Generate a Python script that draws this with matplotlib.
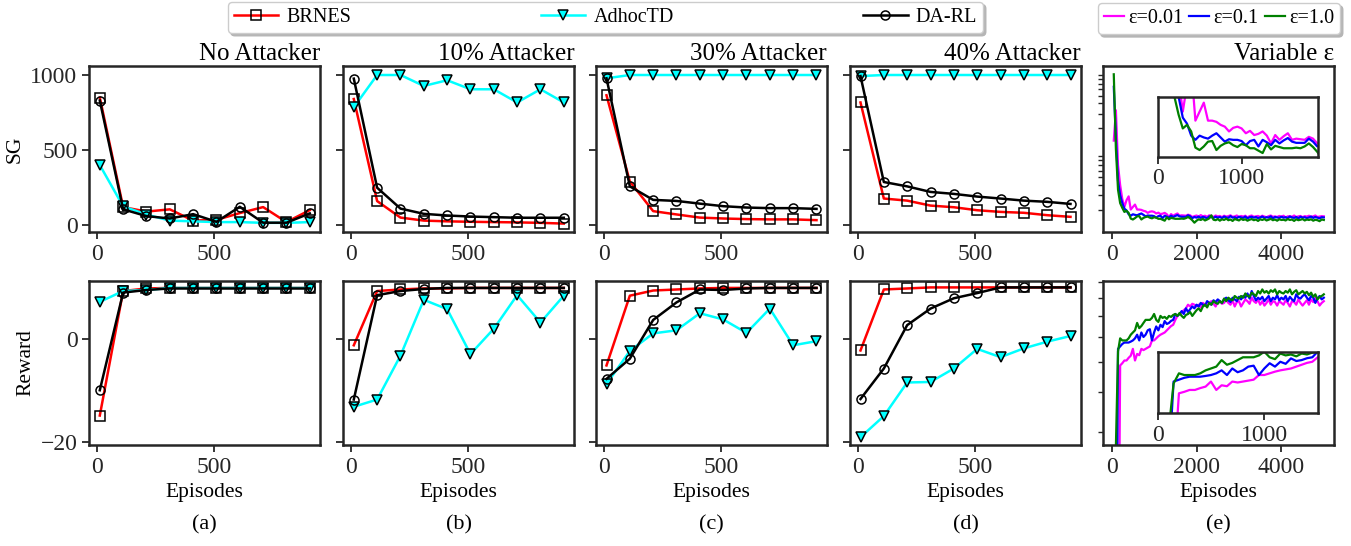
import matplotlib.pyplot as plt
from matplotlib.ticker import NullFormatter

plt.rcParams['font.family'] = ['Liberation Serif', 'DejaVu Serif']

# panels (a)-(d)
episodes = [10, 110, 210, 310, 410, 510, 610, 710, 810, 910]
titles = ['No Attacker', '10% Attacker', '30% Attacker', '40% Attacker']
panel_tags = ['(a)', '(b)', '(c)', '(d)', '(e)']

sg_brnes = [
    [850, 120, 90, 105, 30, 35, 80, 120, 20, 100],
    [840, 160, 50, 30, 25, 22, 20, 18, 15, 10],
    [865, 290, 93, 71, 50, 44, 40, 38, 38, 33],
    [817, 177, 163, 130, 119, 99, 88, 82, 66, 55],
]
sg_adhoc = [
    [400, 125, 70, 30, 25, 20, 20, 15, 15, 20],
    [785, 1000, 1000, 927, 965, 905, 905, 817, 905, 817],
    [978, 1000, 1000, 1000, 1000, 1000, 1000, 1000, 1000, 1000],
    [993, 1000, 1000, 1000, 1000, 1000, 1000, 1000, 1000, 1000],
]
sg_darl = [
    [830, 105, 60, 44, 73, 22, 122, 16, 16, 78],
    [976, 249, 110, 75, 64, 57, 53, 49, 49, 49],
    [978, 258, 168, 161, 143, 126, 117, 113, 113, 108],
    [993, 287, 258, 221, 208, 190, 177, 163, 155, 141],
]

rw_brnes = [
    [-14.8, 9.3, 9.8, 9.9, 9.9, 9.9, 9.9, 9.9, 9.9, 9.9],
    [-1.2, 9.3, 9.6, 9.8, 9.8, 9.9, 9.9, 9.9, 9.9, 9.9],
    [-5.1, 8.4, 9.4, 9.6, 9.8, 9.9, 9.9, 9.9, 9.9, 9.9],
    [-2.2, 9.6, 9.8, 10, 10, 10, 10, 10, 10, 10],
]
rw_adhoc = [
    [7.2, 9.3, 9.5, 9.9, 9.9, 9.9, 9.9, 9.9, 9.9, 9.9],
    [-13.1, -11.7, -3.2, 7.6, 5.8, -2.9, 2.0, 8.5, 3.2, 8.4],
    [-8.7, -2.3, 1.1, 1.7, 5.0, 3.8, 1.2, 5.9, -1.2, -0.4],
    [-19.0, -14.9, -8.4, -8.3, -5.7, -1.9, -3.5, -1.8, -0.5, 0.6],
]
rw_darl = [
    [-9.9, 9.0, 9.5, 9.8, 9.8, 9.8, 9.8, 9.8, 9.8, 9.8],
    [-11.7, 8.5, 9.3, 9.7, 9.9, 9.9, 9.9, 9.9, 9.9, 9.9],
    [-7.7, -3.8, 3.7, 7.1, 9.6, 9.5, 9.8, 9.9, 9.9, 9.9],
    [-11.6, -5.7, 2.7, 5.9, 7.9, 8.9, 10, 10, 10, 10],
]

# panel (e), variable epsilon
eps_episodes = list(range(50, 5001, 50))
eps_labels = ['ε=0.01', 'ε=0.1', 'ε=1.0']
eps_colors = ['#ff00ff', '#0000ff', '#008000']

sg_eps001 = [140, 330, 70, 40, 27, 21.5, 26, 29, 20, 21.5,
             23, 20, 20, 19.8, 19.3, 19, 18.2, 18.8, 19, 18.7,
             17.9, 18.3, 17.6, 17.8, 18.2, 17.5, 16.2, 17.6, 16.8, 17.4,
             17.9, 16.8, 17, 16.9, 16.8, 17.3, 17, 16.2, 16.6, 16.9,
             16.4, 17.1, 16.5, 16.8, 16.3, 17.0, 16.6, 16.2, 16.9, 16.5,
             16.7, 16.1, 16.8, 16.4, 16.6, 17.0, 16.3, 16.5, 16.9, 16.2,
             16.7, 16.4, 16.8, 16.0, 16.6, 16.9, 16.3, 16.5, 16.7, 16.2,
             16.8, 16.4, 16.1, 16.6, 16.9, 16.3, 16.5, 16.2, 16.7, 16.4,
             16.8, 16.0, 16.5, 16.6, 16.3, 16.9, 16.2, 16.5, 16.7, 16.1,
             16.6, 16.4, 16.8, 16.3, 16.5, 16.9, 16.2, 16.4, 16.6, 16.5]
sg_eps01 = [640, 150, 45, 30, 24, 20.5, 19.5, 17.5, 16.8, 17.5,
            17.2, 17, 17.5, 17.9, 17.2, 16.5, 16.9, 16.8, 16.8, 16.6,
            15.9, 16.6, 16.8, 15.7, 16.8, 16.4, 15.9, 16.8, 16.2, 16.7,
            17.1, 16.5, 16.3, 16.3, 16.3, 17, 16.5, 15.7, 16.2, 15.9,
            16.4, 15.8, 16.3, 16.0, 15.6, 16.5, 16.1, 15.8, 16.3, 15.9,
            16.2, 15.7, 16.4, 16.0, 15.8, 16.6, 15.9, 16.1, 15.7, 16.3,
            16.0, 15.8, 16.4, 15.6, 16.1, 16.3, 15.9, 16.2, 15.7, 16.0,
            16.4, 15.8, 16.1, 15.9, 16.5, 15.6, 16.2, 16.0, 15.8, 16.3,
            15.9, 16.1, 15.7, 16.4, 16.0, 15.8, 16.2, 15.6, 16.3, 15.9,
            16.1, 15.7, 16.0, 16.4, 15.8, 16.2, 15.9, 15.6, 16.1, 16.0]
sg_eps1 = [910, 110, 35, 24, 21, 18.7, 19.3, 18.2, 15.5, 15.1,
           15.7, 16.5, 16.6, 15.1, 15.8, 16.2, 16.4, 15.9, 15.6, 16.1,
           15.9, 15.4, 15.4, 15.0, 14.6, 16.1, 15.2, 15.8, 15.6, 15.4,
           15.4, 15.4, 15.5, 15.4, 15.7, 16.2, 15.6, 14.8, 13.8, 14.6,
           15.2, 14.9, 15.4, 14.7, 15.1, 15.6, 17.0, 15.0, 14.8, 15.3,
           14.6, 15.2, 14.9, 15.5, 14.8, 15.1, 14.5, 15.3, 15.0, 14.7,
           15.4, 14.9, 15.2, 14.6, 15.0, 15.3, 14.8, 15.1, 14.5, 15.2,
           14.9, 15.3, 14.7, 15.0, 15.4, 14.8, 15.1, 14.6, 15.2, 14.9,
           15.0, 14.7, 15.3, 14.9, 15.1, 14.5, 15.2, 14.8, 15.0, 15.3,
           14.7, 15.1, 14.9, 15.2, 14.6, 15.0, 14.8, 14.4, 15.1, 14.9]

rw_eps001 = [1, 2, 5, 48.7, 49.5, 50.5, 50.5, 51.5, 52.3, 55,
             50.5, 53, 52.5, 55, 54.5, 55, 55.5, 56, 58.5, 58.5,
             59.4, 60.3, 61, 61.5, 62, 63, 64, 65, 65.6, 68,
             70, 71, 72, 73, 74, 76, 75, 76.5, 76, 75,
             76, 74.5, 77, 76, 75.5, 77, 78, 76.5, 75, 77.5,
             78, 76.5, 77, 79, 77, 76, 78.5, 75, 77.5, 78,
             75, 77, 79, 78, 76.5, 80, 78, 77, 79, 76,
             78, 75.5, 77, 79, 76, 78, 77.5, 75.5, 78, 77,
             76, 78.5, 77, 75, 78, 77.5, 76, 79, 77, 75.5,
             77, 78.5, 76, 79, 77.5, 80, 78, 75.5, 77, 78]
rw_eps01 = [2, 5, 55, 56, 57, 57.6, 57.6, 57.6, 58, 58.5,
            59.4, 61, 58.5, 62, 60, 61, 63, 63.5, 58.5, 62,
            64.8, 63, 65.6, 64.5, 67.4, 66, 66.5, 67.5, 68, 71,
            70, 71, 72.5, 71, 74, 72, 73.5, 75, 74, 76,
            75, 77, 76, 75.5, 78, 77, 76, 78.5, 77.5, 79,
            78, 77, 79, 80, 78.5, 77.5, 80, 79, 78, 80.5,
            79, 81, 80, 82.5, 79.5, 84, 81, 78.5, 80, 79,
            80.5, 78, 79.5, 81, 78, 80, 79, 81.5, 78.5, 80,
            79, 81, 78, 80.5, 79, 78, 82, 80, 79.5, 81,
            82, 80, 78.5, 81, 80, 77, 79.5, 81, 79, 80]
rw_eps1 = [2, 27, 54, 59.4, 58.5, 58.5, 58.5, 59.4, 61, 62,
           63, 66.5, 64, 65, 66.5, 68, 68, 68, 69, 71,
           68, 67, 70, 69, 69.5, 68.5, 70, 69.5, 70.5, 71,
           70, 71.5, 70, 69, 70.5, 71, 72, 70, 71.5, 73,
           74, 72.5, 75, 76, 74.5, 77, 76, 78, 77, 76.5,
           78, 77, 79.5, 78, 80, 79, 78.5, 81, 80, 79.5,
           81, 80, 82.5, 81, 80.5, 83, 82, 81, 84, 82.5,
           85, 83, 84, 82.5, 84.5, 83.5, 85, 82, 84, 83,
           82.5, 84, 83, 85, 82, 83.5, 84.5, 82, 83, 84,
           82.5, 83.5, 81.5, 83, 80.5, 82, 79, 80.5, 81, 82]

W, H = 1351, 546
fig = plt.figure(figsize=(W / 100, H / 100), dpi=100)

lefts = [89.3, 343.3, 596, 850, 1103.3]
aw = 231
rows = [(66, 231.7), (280.7, 445)]

def style(ax):
    for s in ax.spines.values():
        s.set_color('#262626')
        s.set_linewidth(1.8)
    ax.tick_params(direction='out', length=5, width=1.3, colors='#262626',
                   labelsize=17, top=False, right=False)
    ax.tick_params(which='minor', direction='out', length=3.5, width=1.0,
                   colors='#262626')

axes = []
for (top, bot) in rows:
    row = []
    for i, l in enumerate(lefts):
        share = row[0] if 0 < i < 4 else None
        ax = fig.add_axes([l / W, 1 - bot / H, aw / W, (bot - top) / H], sharey=share)
        style(ax)
        row.append(ax)
    axes.append(row)

mk = dict(markersize=6.5, markeredgecolor='black', markeredgewidth=1.1)
for i in range(4):
    for r, (b, a, d) in enumerate([(sg_brnes, sg_adhoc, sg_darl),
                                   (rw_brnes, rw_adhoc, rw_darl)]):
        ax = axes[r][i]
        ax.plot(episodes, b[i], color='red', lw=1.8, marker='s',
                markerfacecolor='none', label='BRNES', **mk)
        ax.plot(episodes, a[i], color='cyan', lw=1.8, marker='v',
                markerfacecolor='cyan', label='AdhocTD', **mk)
        ax.plot(episodes, d[i], color='black', lw=1.8, marker='o',
                markerfacecolor='none', label='DA-RL', **mk)
        ax.set_xlim(-35, 955)
        ax.set_xticks([0, 500])
        if i > 0:
            ax.tick_params(labelleft=False)
    axes[0][i].set_title(titles[i], loc='right', fontsize=18, pad=4)
    axes[1][i].set_xlabel('Episodes', fontsize=15.5)

axes[0][0].set_ylim(-44, 1060)
axes[0][0].set_yticks([0, 500, 1000])
axes[1][0].set_ylim(-20.5, 11.3)
axes[1][0].set_yticks([-20, 0])
axes[0][0].set_ylabel('SG', fontsize=15.5)
axes[1][0].set_ylabel('Reward', fontsize=15.5)

# panel (e)
ax_sg, ax_rw = axes[0][4], axes[1][4]
ax_sg.set_title('Variable ε', loc='right', fontsize=18, pad=4)
ax_rw.set_xlabel('Episodes', fontsize=15.5)

sg_sets = [sg_eps001, sg_eps01, sg_eps1]
rw_sets = [rw_eps001, rw_eps01, rw_eps1]

ins_sg = ax_sg.inset_axes([0.235, 0.453, 0.693, 0.362])
ins_rw = ax_rw.inset_axes([0.235, 0.193, 0.693, 0.375])
for ys, c, lab in zip(sg_sets, eps_colors, eps_labels):
    ax_sg.plot(eps_episodes, ys, color=c, lw=1.6, label=lab)
    ins_sg.plot(eps_episodes, ys, color=c, lw=1.6)
for ys, c in zip(rw_sets, eps_colors):
    ax_rw.plot(eps_episodes, ys, color=c, lw=1.6)
    ins_rw.plot(eps_episodes, ys, color=c, lw=1.6)

for ax, lo, hi in [(ax_sg, 10.7, 1150), (ax_rw, 27.2, 90.6)]:
    ax.set_yscale('log')
    ax.set_ylim(lo, hi)
    ax.set_yticks([])
    ax.yaxis.set_minor_formatter(NullFormatter())
    ax.set_xlim(-197, 5247)
    ax.set_xticks([0, 2000, 4000])

ins_sg.set_xlim(0, 1905)
ins_sg.set_ylim(14, 24)
ins_rw.set_xlim(0, 1500)
ins_rw.set_ylim(38, 71)
for ins in (ins_sg, ins_rw):
    style(ins)
    ins.set_xticks([0, 1000])
    ins.set_yticks([])

# panel tags
for i, l in enumerate(lefts):
    fig.text((l + aw / 2) / W, 1 - 525 / H, panel_tags[i], ha='center',
             va='center', fontsize=16)

shadow = {'color': '#b5b5b5', 'alpha': 1.0}
h, lb = axes[0][0].get_legend_handles_labels()
fig.legend(h, lb, loc='lower left', ncol=3, mode='expand',
           bbox_to_anchor=(228 / W, 1 - 33 / H, 755 / W, 30 / H),
           fontsize=14.5, shadow=shadow, fancybox=True, borderaxespad=0,
           handlelength=2.2, handletextpad=0.4, borderpad=0.3)
h2, lb2 = ax_sg.get_legend_handles_labels()
fig.legend(h2, lb2, loc='upper right', ncol=3,
           bbox_to_anchor=(1340 / W, 1 - 3 / H),
           fontsize=14.5, shadow=shadow, fancybox=True, borderaxespad=0,
           handlelength=1.0, handletextpad=0.2, columnspacing=0.3,
           borderpad=0.3)

fig.savefig('out.png', dpi=100)
